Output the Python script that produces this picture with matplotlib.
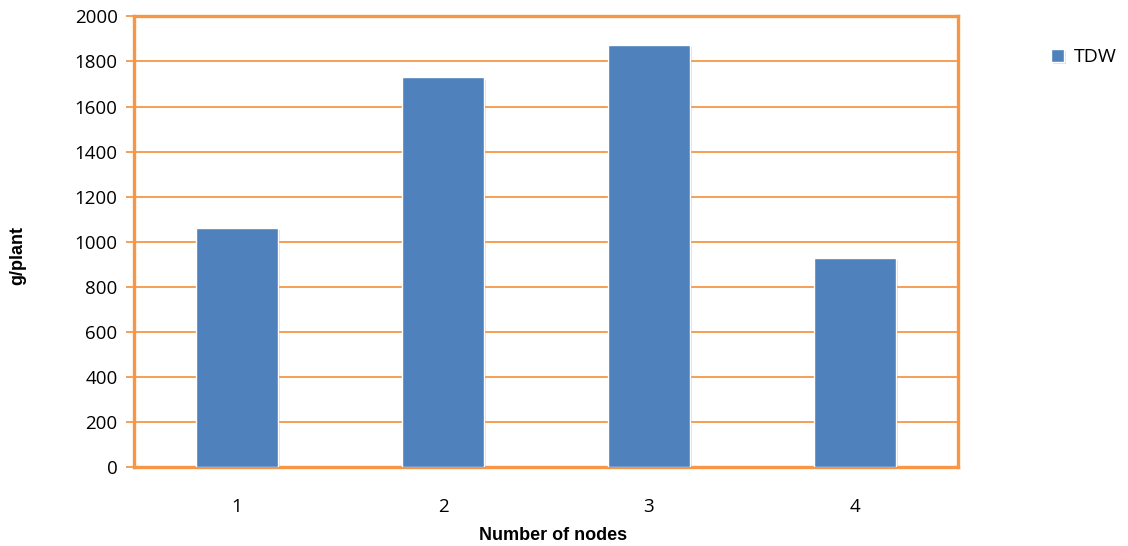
import matplotlib
matplotlib.use("Agg")
import matplotlib.pyplot as plt
import matplotlib.patheffects as pe

categories = ["1", "2", "3", "4"]
tdw_values = [1062, 1729, 1874, 929]
y_ticks = [0, 200, 400, 600, 800, 1000, 1200, 1400, 1600, 1800, 2000]

orange = "#F79646"
blue = "#4F81BD"

fig = plt.figure(figsize=(11.28, 5.46), dpi=100)
ax = fig.add_axes([0.119, 0.1447, 0.730, 0.8253])

x = list(range(len(categories)))
bars = ax.bar(x, tdw_values, width=0.4, color=blue, edgecolor="white",
              linewidth=1.0, zorder=3, label="TDW")
for b in bars:
    b.set_path_effects([pe.SimplePatchShadow(offset=(1.5, -1.5), alpha=0.25,
                                             shadow_rgbFace="gray"), pe.Normal()])

ax.set_xlim(-0.5, len(categories) - 0.5)
ax.set_ylim(0, 2000)
ax.set_yticks(y_ticks)
ax.set_xticks(x)
ax.set_xticklabels(categories)

ax.yaxis.grid(True, color=orange, linewidth=1.3, zorder=0)
ax.set_axisbelow(True)
for s in ax.spines.values():
    s.set_color(orange)
    s.set_linewidth(2.4)

ax.tick_params(axis="y", length=6, width=1.3, color=orange, direction="out",
               labelsize=13.5, pad=6)
ax.tick_params(axis="x", length=0, labelsize=13.5, pad=22)
for lbl in ax.get_xticklabels() + ax.get_yticklabels():
    lbl.set_fontfamily("Open Sans")

ax.set_xlabel("Number of nodes", fontsize=13, fontweight="bold",
              family="Liberation Sans")
ax.xaxis.set_label_coords(0.509, -0.133)
ax.set_ylabel("g/plant", fontsize=13, fontweight="bold",
              family="Liberation Sans")
ax.yaxis.set_label_coords(-0.131, 0.47)

fig.legend(handles=[bars], labels=["TDW"], loc="center left",
           bbox_to_anchor=(0.920, 0.895), frameon=False, handlelength=0.65,
           handleheight=0.65, handletextpad=0.5, borderpad=0.2,
           prop={"family": "Open Sans", "size": 14})

fig.savefig("out.png", dpi=100)
